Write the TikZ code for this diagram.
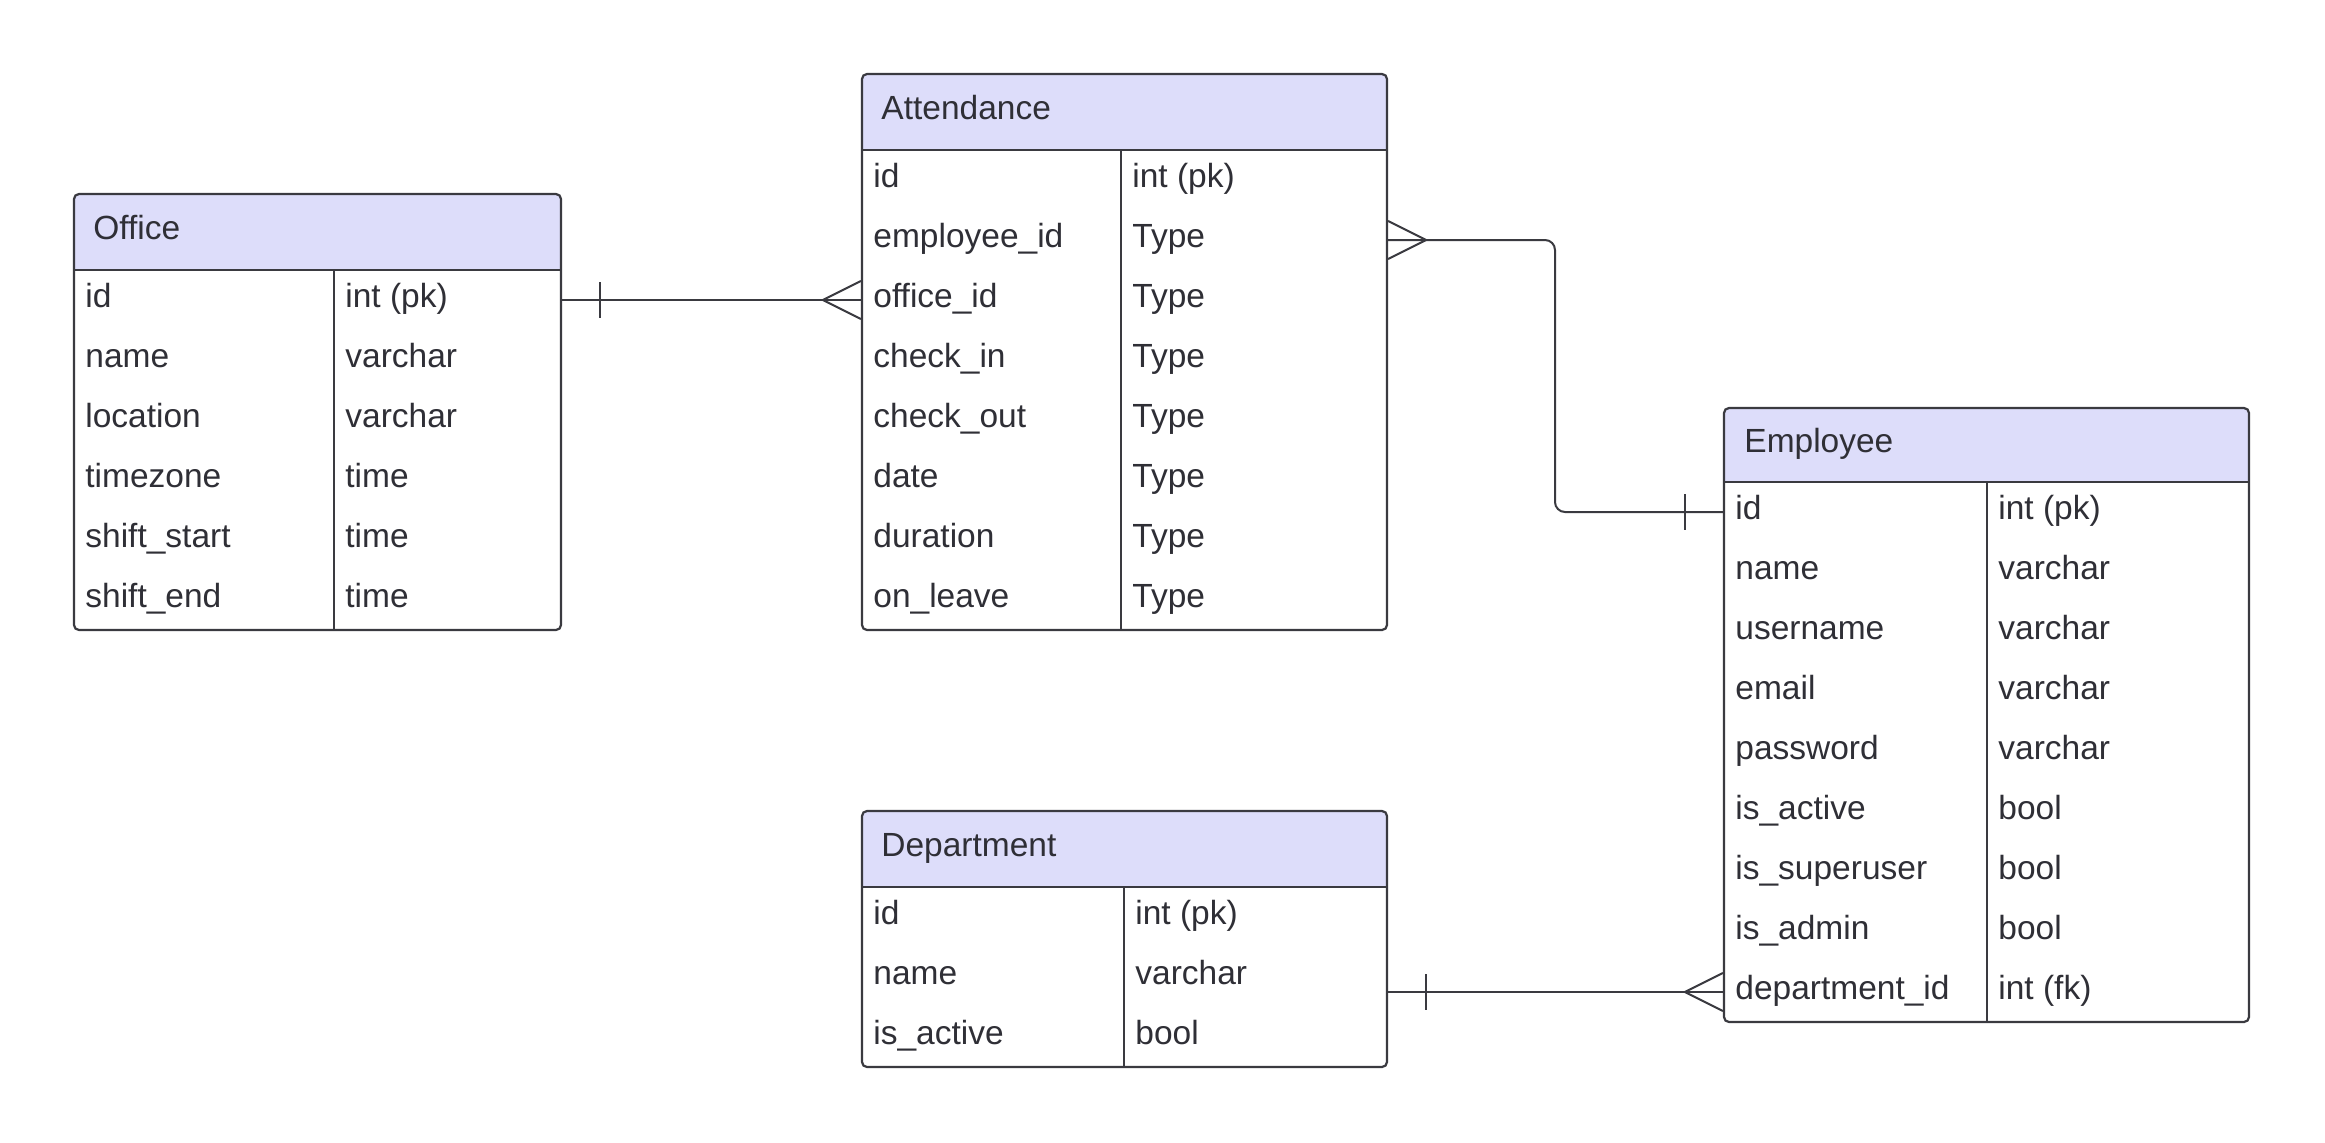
\documentclass[tikz,border=0pt]{standalone}
\usepackage{fontspec}
\setmainfont{Liberation Sans}
\usetikzlibrary{calc,fit}
\definecolor{ink}{HTML}{2F2F36}
\definecolor{headfill}{HTML}{DDDDFA}
\definecolor{linec}{HTML}{3A3A40}

\begin{document}
\begin{tikzpicture}[x=0.5pt,y=-0.5pt,
  tablebox/.style={draw=linec, line width=1.1pt, rounded corners=2.5pt, inner sep=0pt},
  rule/.style={draw=linec, line width=1.1pt},
  colrule/.style={draw=linec, line width=0.9pt},
  cell/.style={anchor=west, inner sep=0pt, text height=9pt, text depth=2pt,
               text=ink, font=\fontsize{16.75}{20}\selectfont},
  conn/.style={draw=linec, line width=1pt},
  tick/.style={draw=linec, line width=0.7pt}
]
\useasboundingbox[fill=white] (0,0) rectangle (2325,1142);

% ---------- Office ----------
\fill[headfill, rounded corners=2.5pt] (74,194) rectangle (561,270);
\fill[headfill] (74,240) rectangle (561,270);
\node[tablebox, fit={(74,194) (561,630)}] (office) {};
\draw[rule] (74,270) -- (561,270);
\draw[colrule] (334,270) -- (334,630);
\node[cell] (of-title) at (93,232) {Office};
\foreach \f/\t [count=\i] in {id/int (pk), name/varchar, location/varchar,
    timezone/time, shift\_start/time, shift\_end/time}{
  \node[cell] (of-f\i) at (85,{240+60*\i}) {\f};
  \node[cell] (of-t\i) at (345,{240+60*\i}) {\t};
}

% ---------- Attendance ----------
\fill[headfill, rounded corners=2.5pt] (862,74) rectangle (1387,150);
\fill[headfill] (862,120) rectangle (1387,150);
\node[tablebox, fit={(862,74) (1387,630)}] (attendance) {};
\draw[rule] (862,150) -- (1387,150);
\draw[colrule] (1121,150) -- (1121,630);
\node[cell] (at-title) at (881,112) {Attendance};
\foreach \f/\t [count=\i] in {id/int (pk), employee\_id/Type, office\_id/Type,
    check\_in/Type, check\_out/Type, date/Type, duration/Type, on\_leave/Type}{
  \node[cell] (at-f\i) at (873,{120+60*\i}) {\f};
  \node[cell] (at-t\i) at (1132,{120+60*\i}) {\t};
}

% ---------- Employee ----------
\fill[headfill, rounded corners=2.5pt] (1724,408) rectangle (2249,482);
\fill[headfill] (1724,450) rectangle (2249,482);
\node[tablebox, fit={(1724,408) (2249,1022)}] (employee) {};
\draw[rule] (1724,482) -- (2249,482);
\draw[colrule] (1987,482) -- (1987,1022);
\node[cell] (em-title) at (1744,445) {Employee};
\foreach \f/\t [count=\i] in {id/int (pk), name/varchar, username/varchar,
    email/varchar, password/varchar, is\_active/bool, is\_superuser/bool,
    is\_admin/bool, department\_id/int (fk)}{
  \node[cell] (em-f\i) at (1735,{452+60*\i}) {\f};
  \node[cell] (em-t\i) at (1998,{452+60*\i}) {\t};
}

% ---------- Department ----------
\fill[headfill, rounded corners=2.5pt] (862,811) rectangle (1387,887);
\fill[headfill] (862,850) rectangle (1387,887);
\node[tablebox, fit={(862,811) (1387,1067)}] (department) {};
\draw[rule] (862,887) -- (1387,887);
\draw[colrule] (1124,887) -- (1124,1067);
\node[cell] (de-title) at (881,849) {Department};
\foreach \f/\t [count=\i] in {id/int (pk), name/varchar, is\_active/bool}{
  \node[cell] (de-f\i) at (873,{857+60*\i}) {\f};
  \node[cell] (de-t\i) at (1135,{857+60*\i}) {\t};
}

% ---------- Relationships ----------
% Office (one) -- Attendance.office_id (many)
\draw[conn] (office.east |- of-f1) -- (attendance.west |- at-f3);
\draw[tick] ($(office.east |- of-f1)+(38,-18)$) -- ++(0,36);
\draw[conn] ($(attendance.west |- at-f3)+(0,-19)$)
         -- ($(attendance.west |- at-f3)+(-38,0)$)
         -- ($(attendance.west |- at-f3)+(0,19)$);

% Attendance.employee_id (many) -- Employee.id (one)
\coordinate (elbow) at (1555,380);
\draw[conn, rounded corners=5pt] (attendance.east |- at-f2) -| (elbow |- em-f1)
         -- (employee.west |- em-f1);
\draw[conn] ($(attendance.east |- at-f2)+(0,-19)$)
         -- ($(attendance.east |- at-f2)+(38,0)$)
         -- ($(attendance.east |- at-f2)+(0,19)$);
\draw[tick] ($(employee.west |- em-f1)+(-38,-18)$) -- ++(0,36);

% Department (one) -- Employee.department_id (many)
\draw[conn] (department.east |- em-f9) -- (employee.west |- em-f9);
\draw[tick] ($(department.east |- em-f9)+(38,-18)$) -- ++(0,36);
\draw[conn] ($(employee.west |- em-f9)+(0,-19)$)
         -- ($(employee.west |- em-f9)+(-38,0)$)
         -- ($(employee.west |- em-f9)+(0,19)$);
\end{tikzpicture}
\end{document}
